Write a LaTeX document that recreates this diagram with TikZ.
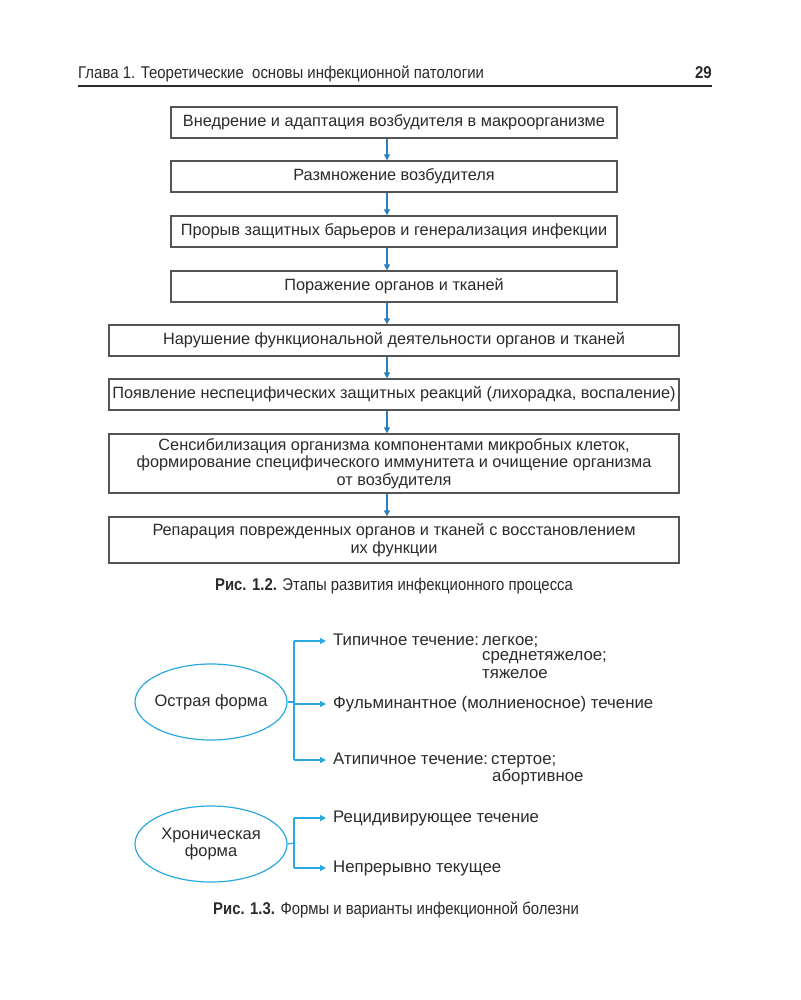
\documentclass[tikz,border=0pt]{standalone}
\usepackage{fontspec}
\setmainfont{Liberation Sans}
\newfontfamily\condf[FakeStretch=0.88]{Liberation Sans}
\newfontfamily\capf[FakeStretch=0.875]{Liberation Sans}
\usetikzlibrary{arrows.meta,shapes.geometric}
\definecolor{txt}{HTML}{2B2B2B}
\definecolor{frame}{HTML}{555555}
\definecolor{arrblue}{HTML}{2A7FC0}
\definecolor{cyanl}{HTML}{2BA8E0}
\begin{document}
\begin{tikzpicture}[x=1pt,y=-1pt,
  stepbox/.style={draw=frame, line width=1.3pt, rectangle, inner sep=0pt, align=center, text=txt,
    font=\fontsize{16.3}{17.5}\selectfont},
  narrowbox/.style={stepbox, minimum width=446pt},
  widebox/.style={stepbox, minimum width=570pt},
  flowarr/.style={draw=arrblue, line width=1.2pt, -{Triangle[length=6pt,width=6pt]}},
  formell/.style={draw=cyanl, line width=1.2pt, ellipse, inner sep=0pt, inner xsep=-8pt, align=center, text=txt,
    minimum width=152pt, minimum height=76pt, font=\fontsize{16.5}{17.5}\selectfont},
  brline/.style={draw=cyanl, line width=1.2pt},
  brarr/.style={draw=cyanl, line width=1.2pt, -{Triangle[length=6pt,width=6pt]}, shorten >=3pt},
  vtext/.style={anchor=west, inner sep=4pt, text=txt, font=\fontsize{16.8}{17.5}\selectfont},
  subtext/.style={anchor=west, inner sep=0pt, text=txt, font=\fontsize{16.8}{17.5}\selectfont},
  captext/.style={text=txt, inner sep=0pt, font=\capf\fontsize{17}{18}\selectfont},
  headtext/.style={text=txt, inner sep=0pt, font=\condf\fontsize{17}{18}\selectfont}]
\path[use as bounding box, fill=white] (0,0) rectangle (800,1000);

% header
\node[headtext, anchor=base west] (hd) at (78,79) {Глава 1. Теоретические\ \ основы инфекционной патологии};
\node[headtext, anchor=base east, font=\condf\bfseries\fontsize{17}{18}\selectfont] (pg) at (712,79) {29};
\coordinate (rl) at (78,86);
\coordinate (rr) at (712,86);
\draw[line width=1.3pt, draw=txt] (rl) -- (rr);

% flow chart
\node[narrowbox, minimum height=31pt] (b1) at (394,122.5) {Внедрение и адаптация возбудителя в макроорганизме};
\node[narrowbox, minimum height=31pt] (b2) at (394,176.5) {Размножение возбудителя};
\node[narrowbox, minimum height=31pt] (b3) at (394,231.5) {Прорыв защитных барьеров и генерализация инфекции};
\node[narrowbox, minimum height=31pt] (b4) at (394,286.5) {Поражение органов и тканей};
\node[widebox, minimum height=31pt] (b5) at (394,340.5) {Нарушение функциональной деятельности органов и тканей};
\node[widebox, minimum height=31pt] (b6) at (394,394.5) {Появление неспецифических защитных реакций (лихорадка, воспаление)};
\node[widebox, minimum height=59pt] (b7) at (394,463.5) {Сенсибилизация организма компонентами микробных клеток,\\формирование специфического иммунитета и очищение организма\\от возбудителя};
\node[widebox, minimum height=46pt] (b8) at (394,540) {Репарация поврежденных органов и тканей с восстановлением\\их функции};

\coordinate (ax) at (387,0);
\foreach \a/\b in {b1/b2,b2/b3,b3/b4,b4/b5,b5/b6,b6/b7,b7/b8}
  \draw[flowarr] (\a.south -| ax) -- (\b.north -| ax);

\node[captext] (c1) at (394,586) {\textbf{Рис. 1.2.} Этапы развития инфекционного процесса};

% forms
\node[formell] (e1) at (211,702) {Острая форма};
\node[formell] (e2) at (211,844) {Хроническая\\форма};

\node[vtext] (t1) at (329,641) {\makebox[149pt][l]{Типичное течение:}легкое;};
\node[subtext] (t1b) at (482,658) {среднетяжелое;};
\node[subtext] (t1c) at (482,674) {тяжелое};
\node[vtext] (t2) at (329,704) {Фульминантное (молниеносное) течение};
\node[vtext] (t3) at (329,760) {\makebox[158pt][l]{Атипичное течение:}стертое;};
\node[subtext] (t3b) at (492,777) {абортивное};
\node[vtext] (t4) at (329,818) {Рецидивирующее течение};
\node[vtext] (t5) at (329,868) {Непрерывно текущее};

\coordinate (ba) at (294,702);
\coordinate (bb) at (294,843);
\draw[brline] (e1.east) -- (ba);
\draw[brline] (ba |- t1.west) -- (ba |- t3.west);
\draw[brarr] (ba |- t1.west) -- (t1.west);
\draw[brarr] (ba |- t2.west) -- (t2.west);
\draw[brarr] (ba |- t3.west) -- (t3.west);
\draw[brline] (e2.east) -- (bb);
\draw[brline] (bb |- t4.west) -- (bb |- t5.west);
\draw[brarr] (bb |- t4.west) -- (t4.west);
\draw[brarr] (bb |- t5.west) -- (t5.west);

\node[captext] (c2) at (396,910) {\textbf{Рис. 1.3.} Формы и варианты инфекционной болезни};
\end{tikzpicture}
\end{document}
